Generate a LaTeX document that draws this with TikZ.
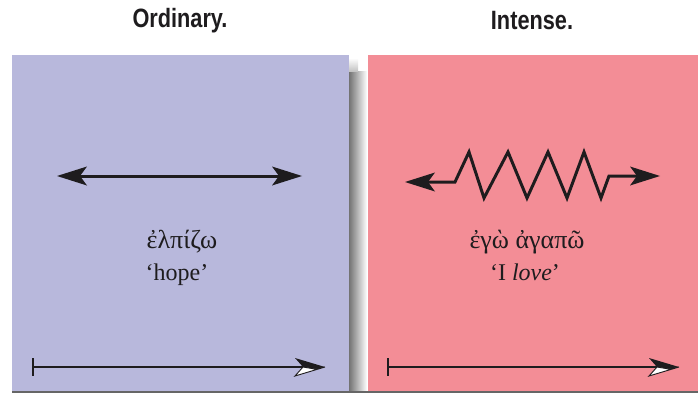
\documentclass[tikz,border=0pt]{standalone}
\usepackage{fontspec}
\setmainfont{Liberation Serif}
\newfontfamily\titlefont[FakeStretch=0.82]{Liberation Sans}
\usetikzlibrary{arrows.meta}
\definecolor{boxblue}{RGB}{184,184,220}
\definecolor{boxpink}{RGB}{243,141,150}
\definecolor{ink}{RGB}{30,28,30}
\tikzset{
  titlestyle/.style={font=\titlefont\bfseries\fontsize{26.5}{30}\selectfont, inner sep=0pt, text=ink},
  wordstyle/.style={font=\fontsize{24}{28}\selectfont, inner sep=0pt, anchor=base, text=ink},
  greekstyle/.style={wordstyle, font=\fontsize{26}{30}\selectfont},
  bighead/.tip={Stealth[length=30pt,width=19pt,inset=7pt,line width=0pt]},
  boldline/.style={draw=ink, line width=3pt},
  thinline/.style={draw=ink, line width=2pt},
  halfhead/.pic={
    \fill[ink] (0,0) -- (-30,-9) -- (-22,0) -- (-10,2) -- cycle;
    \filldraw[fill=white, draw=ink, line width=0.9pt] (0,0) -- (-10,2) -- (-22,0) -- (-30,9) -- cycle;
  },
  barstyle/.style={draw=ink, line width=2.5pt}
}
\begin{document}
\begin{tikzpicture}[x=1pt,y=-1pt]
\useasboundingbox (0,0) rectangle (698,393);
\fill[white] (0,0) rectangle (698,393);
% shadows
\shade[left color=black!55, right color=white] (349,72) rectangle (367,393);
\shade[top color=white, bottom color=black!25] (349,58) rectangle (358,72);
\fill[black!60] (12,391) rectangle (698,393);
% boxes
\fill[boxblue] (12,55) rectangle (349,391);
\fill[boxpink] (368,55) rectangle (698,391);
% titles
\node[titlestyle] (t1) at (180,21) {Ordinary.};
\node[titlestyle] (t2) at (532,21) {Intense.};
% ordinary double arrow
\coordinate (oL) at (57,176);
\coordinate (oR) at (302,176);
\draw[boldline, bighead-bighead] (oL) -- (oR);
% intense zigzag arrow
\coordinate (zL) at (405,182);
\coordinate (zR) at (660,176);
\draw[boldline, miter limit=10, bighead-bighead] (zL) -- (455,182) -- (469,152) -- (484,198) -- (508,152) -- (527,198) -- (548,152) -- (567,198) -- (584,152) -- (601,198) -- (609,176) -- (zR);
% words
\node[greekstyle] (w1) at (182,248) {ἐλπίζω};
\node[wordstyle] (w2) at (177,280) {‘hope’};
\node[greekstyle] (w3) at (527,248) {ἐγὼ ἀγαπῶ};
\node[wordstyle] (w4) at (525,280) {‘I \textit{love}’};
% time arrows
\coordinate (bL1) at (33,367);
\coordinate (bR1) at (325,367);
\draw[thinline] (bL1) -- ([xshift=-20pt]bR1);
\draw[barstyle] (bL1) ++(0,-9) -- ++(0,18);
\pic at (bR1) {halfhead};
\coordinate (bL2) at (388,367);
\coordinate (bR2) at (679,367);
\draw[thinline] (bL2) -- ([xshift=-20pt]bR2);
\draw[barstyle] (bL2) ++(0,-9) -- ++(0,18);
\pic at (bR2) {halfhead};
\end{tikzpicture}
\end{document}
